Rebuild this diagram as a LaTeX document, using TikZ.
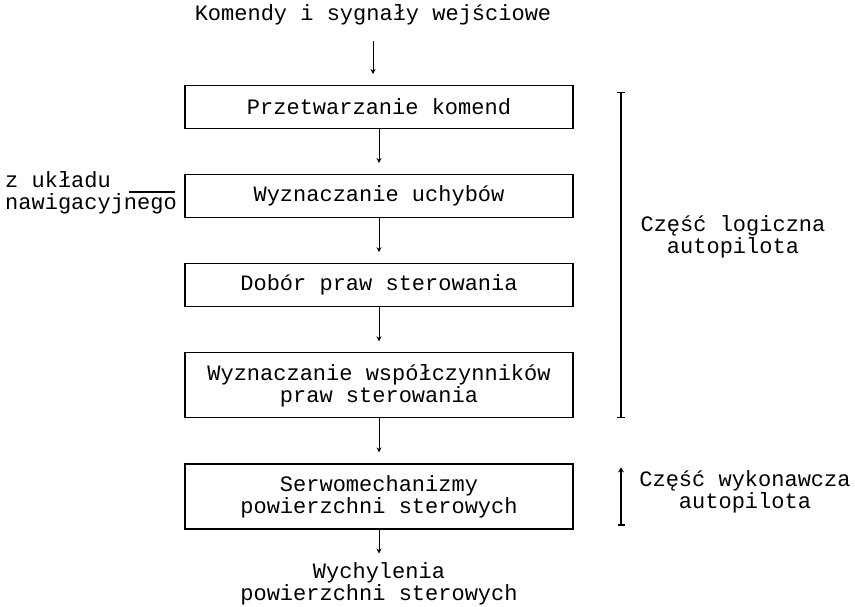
\documentclass[tikz,border=0pt]{standalone}
\usepackage{fontspec}
\newfontfamily\plotfont{Liberation Mono}
\usetikzlibrary{positioning, arrows.meta}

\begin{document}
\begin{tikzpicture}[
    node distance = 45pt,
    txt/.style = {font=\plotfont\fontsize{22}{22}\selectfont, align=center, inner sep=0pt},
    box/.style = {txt, rectangle, draw, line width=1.1pt, minimum width=388pt, minimum height=43pt},
    tall/.style = {box, minimum height=65pt},
    arrow/.style = {-{Stealth[length=5pt, width=5pt]}, line width=1pt, shorten >=11pt},
    span/.style = {line width=1.1pt}
]
    \useasboundingbox (0,0) rectangle (855pt,-607pt);

    % main chain
    \node[txt] (IN) at (373pt,-15pt) {Komendy i sygnały wejściowe};
    \node[box, anchor=north] (KOM) at (379pt,-85pt) {Przetwarzanie  komend};
    \node[box, below=of KOM] (UCH) {Wyznaczanie uchybów};
    \node[box, below=of UCH] (DOB) {Dobór praw sterowania};
    \node[tall, below=of DOB] (WSP) {Wyznaczanie współczynników\\praw sterowania};
    \node[tall, below=of WSP] (SERW) {Serwomechanizmy\\powierzchni sterowych};
    \node[txt, below=33pt of SERW] (OUT) {Wychylenia\\powierzchni sterowych};

    % side input
    \node[txt, align=left, anchor=west] (NAV) at (5pt,-193pt) {z układu\\nawigacyjnego};

    \draw[arrow, shorten <=16pt] (IN.south) -- (IN.south |- KOM.north);
    \draw[arrow] (KOM) -- (UCH);
    \draw[arrow] (UCH) -- (DOB);
    \draw[arrow] (DOB) -- (WSP);
    \draw[arrow] (WSP) -- (SERW);
    \draw[arrow, shorten >=9pt] (SERW) -- (OUT);
    \draw[span, shorten >=9pt] ([xshift=-48pt, yshift=1pt]NAV.east) -- ([yshift=1pt]NAV.east -| UCH.west);

    % parts of the autopilot
    \coordinate (BR) at (621pt,0);
    \draw[span, {Bar[width=8pt]}-{Bar[width=8pt]}] ([yshift=-7pt]KOM.north -| BR) -- (WSP.south -| BR);
    \node[txt] (LOG) at (733pt,-237pt) {Część logiczna\\autopilota};
    \draw[span, {Stealth[length=5pt, width=6pt]}-{Bar[width=7pt]}] ([yshift=-4pt]SERW.north -| BR) -- ([yshift=4pt]SERW.south -| BR);
    \node[txt] (WYK) at (745pt,-492pt) {Część wykonawcza\\autopilota};
\end{tikzpicture}
\end{document}
